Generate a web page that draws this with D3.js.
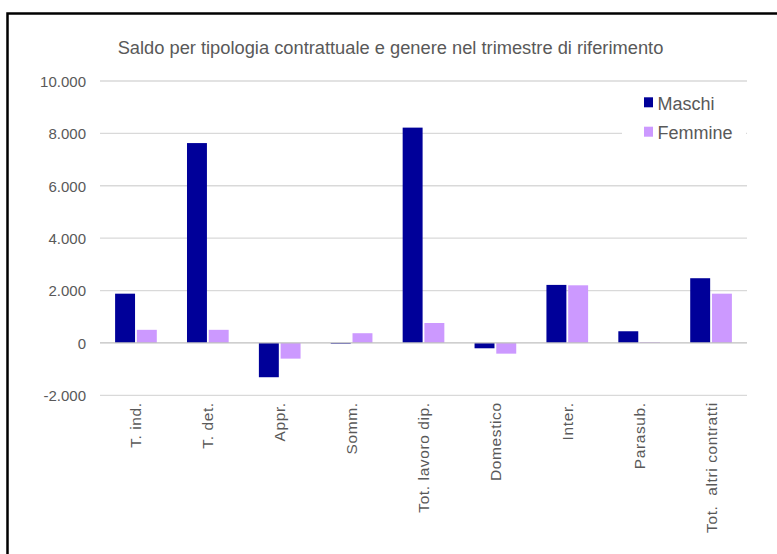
<!DOCTYPE html>
<html><head><meta charset="utf-8">
<script src="https://cdn.jsdelivr.net/npm/d3@7"></script>
<style>
html,body{margin:0;padding:0;background:#fff;}
svg{display:block;font-family:"Liberation Sans",Arial,sans-serif;}
</style></head>
<body>
<svg id="c" width="777" height="554"></svg>
<script>
const categories = ["T. ind.","T. det.","Appr.","Somm.","Tot. lavoro dip.","Domestico","Inter.","Parasub.","Tot.  altri contratti"];
const maschi  = [1880, 7630, -1310, -30, 8220, -205, 2215, 445, 2470];
const femmine = [500, 500, -600, 370, 760, -410, 2200, 30, 1880];
const seriesNames = ["Maschi","Femmine"];
const seriesColors = ["#000099","#cc99ff"];
const yTicks = [-2000,0,2000,4000,6000,8000,10000];
const title = "Saldo per tipologia contrattuale e genere nel trimestre di riferimento";

const FONT = "Liberation Sans, Arial, sans-serif";
const svg = d3.select("#c");
svg.append("rect").attr("x",7.5).attr("y",13.5).attr("width",900).attr("height",700)
  .attr("fill","#fff").attr("stroke","#000").attr("stroke-width",2.5);

const x = d3.scaleBand().domain(categories).range([100,747]).paddingInner(0).paddingOuter(0);
const y = d3.scaleLinear().domain([-2000,10000]).range([395.3,81]);
const bw = x.bandwidth()/3.5;
const x1 = d3.scaleBand().domain(seriesNames).range([-bw, bw]);

const loc = d3.formatLocale({decimal:",", thousands:".", grouping:[3], currency:["",""], minus:"-"});
const fmt = loc.format(",");

// gridlines
svg.append("g").selectAll("line").data(yTicks.filter(t=>t!==0)).join("line")
  .attr("x1",100).attr("x2",747).attr("y1",d=>y(d)).attr("y2",d=>y(d))
  .attr("stroke","#d9d9d9").attr("stroke-width",1.3);

// y axis labels
const yAxis = d3.axisLeft(y).tickValues(yTicks).tickSize(0).tickPadding(0).tickFormat(fmt);
const ya = svg.append("g").attr("transform","translate(86,0)").call(yAxis);
ya.select(".domain").remove();
ya.attr("font-family",FONT);
ya.selectAll("text").attr("font-size",15).attr("fill","#595959").attr("dy","0.36em");

// bars
const data = categories.map((c,i)=>({c, vals:[maschi[i], femmine[i]]}));
const g = svg.append("g");
seriesNames.forEach((s,si)=>{
  g.selectAll(".b"+si).data(data).join("rect")
    .attr("x", d=>x(d.c)+x.bandwidth()/2 + x1(s) + (si===0?-0.3:0.9))
    .attr("width", bw-0.6)
    .attr("y", d=>Math.min(y(d.vals[si]), y(0)))
    .attr("height", d=>Math.abs(y(d.vals[si])-y(0)))
    .attr("fill", seriesColors[si]);
});

// zero axis
svg.append("line").attr("x1",100).attr("x2",747).attr("y1",y(0)).attr("y2",y(0))
  .attr("stroke","#bfbfbf").attr("stroke-width",1.3);

// x labels
const xAxis = d3.axisBottom(x).tickSize(0).tickPadding(0);
const xa = svg.append("g").attr("transform",`translate(0,${y(-2000)})`).call(xAxis);
xa.select(".domain").remove();
xa.attr("font-family",FONT);
xa.selectAll("text").attr("font-size",15.5).attr("fill","#595959")
  .attr("letter-spacing",0.6)
  .attr("text-anchor","end").attr("dy",null)
  .attr("transform","translate(5.5,7) rotate(-90)")
  .attr("x",0).attr("y",0).style("white-space","pre");

// title
svg.append("text").attr("x",390.5).attr("y",54).attr("text-anchor","middle")
  .attr("font-size",18.3).attr("fill","#595959").text(title);

// legend
const lg = svg.append("g");
lg.append("rect").attr("x",622).attr("y",86).attr("width",124).attr("height",62).attr("fill","#fff");
seriesNames.forEach((s,i)=>{
  lg.append("rect").attr("x",644).attr("y",97.3+i*29.4).attr("width",9).attr("height",10).attr("fill",seriesColors[i]);
  lg.append("text").attr("x",657.5).attr("y",110+i*29.4).attr("font-size",18).attr("fill","#595959").text(s);
});
</script>
</body></html>
